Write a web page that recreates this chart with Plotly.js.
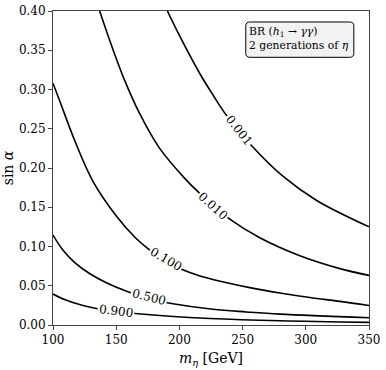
<!DOCTYPE html>
<html>
<head>
<meta charset="utf-8">
<script src="https://cdn.plot.ly/plotly-3.0.1.min.js"></script>
<style>
  html, body { margin: 0; padding: 0; background: #fff; }
  #chart { width: 386px; height: 370px; }
</style>
</head>
<body>
<div id="chart"></div>
<script>
// contour lines of BR(h1 -> gamma gamma)
const levels = ["0.001", "0.010", "0.100", "0.500", "0.900"];

const mass001 = [190.5, 200.2, 216.1, 226.6, 237.2, 257.0, 282.1, 308.6, 350.0];
const sina001 = [0.400, 0.3682, 0.3204, 0.2930, 0.2671, 0.2287, 0.1892, 0.1586, 0.1250];

const mass010 = [136.9, 146.8, 156.7, 168.5, 184.4, 204.2, 216.1, 239.9, 263.6, 295.3, 327.0, 350.0];
const sina010 = [0.400, 0.3538, 0.3116, 0.2695, 0.2250, 0.1868, 0.1676, 0.1348, 0.1111, 0.0882, 0.0718, 0.0632];

const mass100 = [100.0, 105.2, 117.0, 131.5, 150.1, 165.4, 176.5, 192.3, 208.2, 228.0, 255.7, 279.5, 303.3, 327.0, 350.0];
const sina100 = [0.3079, 0.2860, 0.2357, 0.1834, 0.1389, 0.1108, 0.0955, 0.0783, 0.0669, 0.0573, 0.0476, 0.0408, 0.0350, 0.0301, 0.0248];

const mass500 = [100.0, 107.8, 117.0, 128.9, 142.2, 159.3, 176.5, 193.7, 226.6, 253.1, 279.5, 350.0];
const sina500 = [0.1146, 0.0955, 0.0799, 0.0656, 0.0539, 0.0423, 0.0331, 0.0274, 0.0200, 0.0166, 0.0138, 0.0092];

const mass900 = [100.0, 109.1, 121.0, 131.5, 148.7, 167.2, 192.3, 224.0, 279.5, 350.0];
const sina900 = [0.0395, 0.0325, 0.0261, 0.0220, 0.0175, 0.0143, 0.0111, 0.0083, 0.0054, 0.0034];

// where the inline labels sit and how they are turned
const labelMass = [247.0, 226.6, 189.2, 175.7, 149.6];
const labelSina = [0.2484, 0.1518, 0.0841, 0.0363, 0.0178];
const labelAngle = [52, 42, 30, 14, 7];

const xTicks = [100, 150, 200, 250, 300, 350];
const yTicks = [0.00, 0.05, 0.10, 0.15, 0.20, 0.25, 0.30, 0.35, 0.40];

const serif = "DejaVu Serif";

const masses = [mass001, mass010, mass100, mass500, mass900];
const sinas = [sina001, sina010, sina100, sina500, sina900];

const traces = levels.map((lvl, i) => ({
    x: masses[i],
    y: sinas[i],
    mode: "lines",
    name: lvl,
    line: { color: "black", width: 1.6, shape: "spline", smoothing: 1 },
    hoverinfo: "skip"
}));

const labels = levels.map((lvl, i) => ({
    x: labelMass[i],
    y: labelSina[i],
    xref: "x",
    yref: "y",
    text: lvl,
    showarrow: false,
    textangle: labelAngle[i],
    bgcolor: "white",
    borderpad: 1,
    font: { family: serif, size: 12, color: "black" }
}));

labels.push({
    x: 0.613,
    y: 0.962,
    xref: "paper",
    yref: "paper",
    xanchor: "left",
    yanchor: "top",
    align: "left",
    showarrow: false,
    text: "BR (<i>h</i><sub>1</sub> → <i>γγ</i>)<br>2 generations of <i>η</i>",
    font: { family: serif, size: 10.8, color: "black" }
});

const layout = {
    width: 386,
    height: 370,
    margin: { l: 53, r: 17, t: 11, b: 45 },
    paper_bgcolor: "white",
    plot_bgcolor: "white",
    showlegend: false,
    font: { family: serif, size: 12, color: "black" },
    xaxis: {
        range: [100, 350],
        tickvals: xTicks,
        ticks: "outside",
        ticklen: 4,
        tickcolor: "#444",
        showgrid: false,
        zeroline: false,
        showline: true,
        linecolor: "#444",
        linewidth: 1,
        mirror: true,
        tickfont: { family: serif, size: 12 },
        title: { text: "<i>m</i><sub><i>η</i></sub> [GeV]", font: { family: serif, size: 14 }, standoff: 6 }
    },
    yaxis: {
        range: [0, 0.4],
        tickvals: yTicks,
        tickformat: ".2f",
        ticks: "outside",
        ticklen: 4,
        tickcolor: "#444",
        showgrid: false,
        zeroline: false,
        showline: true,
        linecolor: "#444",
        linewidth: 1,
        mirror: true,
        tickfont: { family: serif, size: 12 },
        title: { text: "sin <i>α</i>", font: { family: serif, size: 14 }, standoff: 6 }
    },
    shapes: [{
        type: "path",
        xref: "paper",
        yref: "paper",
        path: "M 0.624 0.965 L 0.938 0.965 Q 0.952 0.965 0.952 0.953 L 0.952 0.865 Q 0.952 0.8525 0.938 0.8525 L 0.624 0.8525 Q 0.610 0.8525 0.610 0.865 L 0.610 0.953 Q 0.610 0.965 0.624 0.965 Z",
        fillcolor: "rgba(242,242,242,1)",
        line: { color: "black", width: 1 },
        layer: "above"
    }],
    annotations: labels
};

Plotly.newPlot("chart", traces, layout, { staticPlot: true, displayModeBar: false });
</script>
</body>
</html>
